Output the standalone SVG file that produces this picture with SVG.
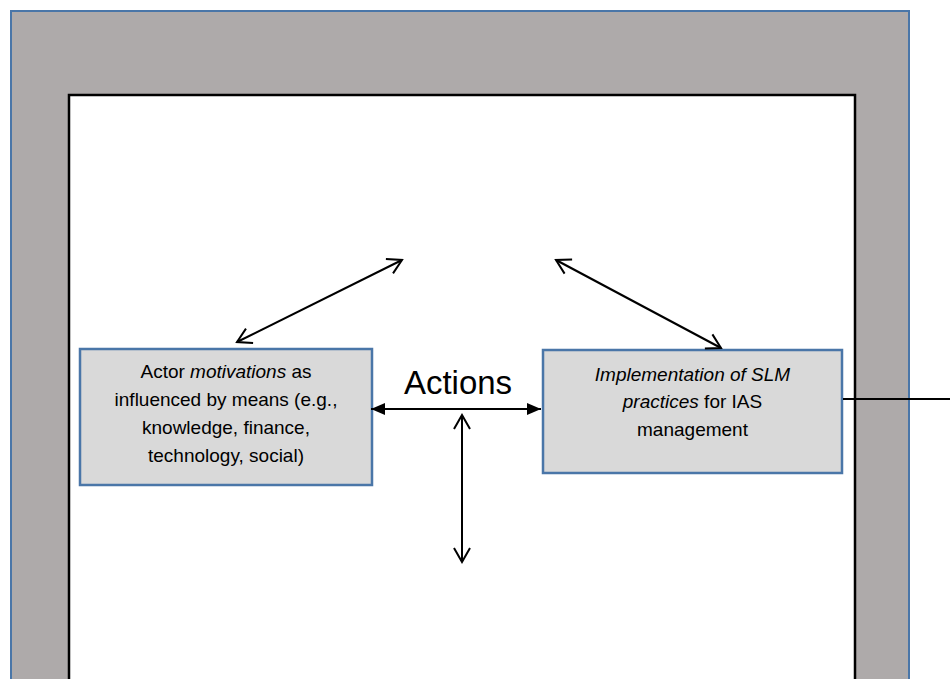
<svg xmlns="http://www.w3.org/2000/svg" width="950" height="679" viewBox="0 0 950 679">
  <style>
    .box { fill: #d9d9d9; stroke: #4a76a8; stroke-width: 2.5; }
    .lbl { font-family: "Liberation Sans", Arial, sans-serif; font-size: 19px; fill: #000; text-anchor: middle; }
    .big { font-family: "Liberation Sans", Arial, sans-serif; font-size: 33px; fill: #000; text-anchor: middle; }
    .con { stroke: #000; stroke-width: 2; fill: none; }
  </style>
  <defs>
    <marker id="open" viewBox="0 0 22 22" refX="20" refY="11" markerWidth="22" markerHeight="22" markerUnits="userSpaceOnUse" orient="auto-start-reverse">
      <path d="M6,3 L20,11 L6,19" fill="none" stroke="#000" stroke-width="2"/>
    </marker>
    <marker id="solid" viewBox="0 0 16 16" refX="15" refY="8" markerWidth="16" markerHeight="16" markerUnits="userSpaceOnUse" orient="auto-start-reverse">
      <path d="M1,2 L15,8 L1,14 Z" fill="#000"/>
    </marker>
  </defs>
  <rect width="950" height="679" fill="#ffffff"/>
  <g id="outer-frame">
    <rect x="11" y="11" width="898" height="680" fill="#aeaaaa" stroke="#4a76a8" stroke-width="2"/>
  </g>
  <g id="inner-frame">
    <rect x="69" y="95" width="786" height="600" fill="#ffffff" stroke="#000" stroke-width="2.5"/>
  </g>
  <g id="actor-motivations">
    <rect class="box" x="80" y="349" width="292" height="136"/>
    <text class="lbl" x="226" y="378">Actor <tspan font-style="italic">motivations</tspan> as</text>
    <text class="lbl" x="226" y="406">influenced by means (e.g.,</text>
    <text class="lbl" x="226" y="434">knowledge, finance,</text>
    <text class="lbl" x="226" y="462">technology, social)</text>
  </g>
  <g id="slm-implementation">
    <rect class="box" x="543" y="350" width="299" height="123"/>
    <text class="lbl" x="692.5" y="381" font-style="italic">Implementation of SLM</text>
    <text class="lbl" x="692.5" y="408"><tspan font-style="italic">practices</tspan> for IAS</text>
    <text class="lbl" x="692.5" y="436">management</text>
  </g>
  <g id="actions-label">
    <text class="big" x="458" y="394">Actions</text>
  </g>
  <g id="connectors">
    <line class="con" x1="237" y1="342" x2="402" y2="260" marker-start="url(#open)" marker-end="url(#open)"/>
    <line class="con" x1="556" y1="260" x2="721" y2="348" marker-start="url(#open)" marker-end="url(#open)"/>
    <line class="con" x1="371" y1="409" x2="541" y2="409" marker-start="url(#solid)" marker-end="url(#solid)"/>
    <line class="con" x1="462" y1="415" x2="462" y2="562" marker-start="url(#open)" marker-end="url(#open)"/>
    <line class="con" x1="843" y1="399" x2="950" y2="399"/>
  </g>
</svg>
